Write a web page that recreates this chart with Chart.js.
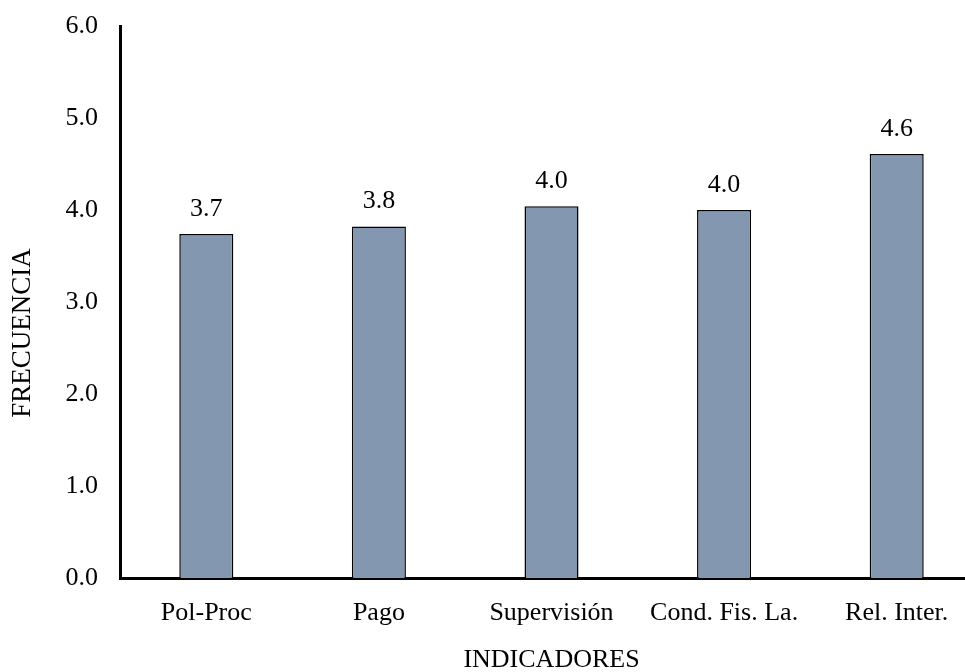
<!DOCTYPE html>
<html>
<head>
<meta charset="utf-8">
<script src="https://cdn.jsdelivr.net/npm/chart.js@4/dist/chart.umd.min.js"></script>
<style>
  html, body { margin: 0; padding: 0; background: #fff; overflow: hidden; }
  #wrap { position: relative; width: 983px; height: 672px; }
</style>
</head>
<body>
<div id="wrap"><canvas id="c" width="983" height="672"></canvas></div>
<script>
// Indicator averages
const categories = ['Pol-Proc', 'Pago', 'Supervisión', 'Cond. Fis. La.', 'Rel. Inter.'];
const values = [3.74, 3.82, 4.04, 4.00, 4.61];
const yTicks = [0, 1, 2, 3, 4, 5, 6];
const yTitle = 'FRECUENCIA';
const xTitle = 'INDICADORES';

const FONT = "'Liberation Serif', 'Times New Roman', serif";
const FSIZE = 26;

// Draws the value above each bar
const valueLabels = {
  id: 'valueLabels',
  afterDatasetsDraw(chart) {
    const ctx = chart.ctx;
    const meta = chart.getDatasetMeta(0);
    ctx.save();
    ctx.font = FSIZE + 'px ' + FONT;
    ctx.fillStyle = '#000';
    ctx.textAlign = 'center';
    ctx.textBaseline = 'bottom';
    meta.data.forEach((bar, i) => {
      ctx.fillText(values[i].toFixed(1), bar.x, bar.y - 12);
    });
    ctx.restore();
  }
};

// Vertical axis title, drawn rotated along the left edge
const sideTitle = {
  id: 'sideTitle',
  afterDraw(chart) {
    const ctx = chart.ctx;
    ctx.save();
    ctx.translate(23, 333);
    ctx.rotate(-Math.PI / 2);
    ctx.font = '27px ' + FONT;
    ctx.fillStyle = '#000';
    ctx.textAlign = 'center';
    ctx.textBaseline = 'middle';
    ctx.fillText(yTitle, 0, 0);
    ctx.restore();
  }
};

new Chart(document.getElementById('c'), {
  type: 'bar',
  data: {
    labels: categories,
    datasets: [{
      data: values,
      backgroundColor: '#8497B0',
      borderColor: '#000',
      borderWidth: 1.5,
      categoryPercentage: 1,
      barPercentage: 0.313
    }]
  },
  options: {
    responsive: false,
    animation: false,
    devicePixelRatio: 1,
    layout: { padding: { top: 26, right: 0, left: 0, bottom: 0 } },
    plugins: { legend: { display: false }, tooltip: { enabled: false } },
    scales: {
      x: {
        grid: { display: false, drawTicks: false },
        border: { display: true, color: '#000', width: 3 },
        ticks: { color: '#000', font: { family: FONT, size: FSIZE }, padding: 20, maxRotation: 0 },
        title: { display: true, text: xTitle, color: '#000', font: { family: FONT, size: FSIZE, lineHeight: 1 }, padding: { top: 0, bottom: -1 } },
        afterFit(scale) { scale.height = 94; scale.paddingLeft = 0; scale.paddingRight = 0; }
      },
      y: {
        min: yTicks[0],
        max: yTicks[yTicks.length - 1],
        afterBuildTicks(scale) { scale.ticks = yTicks.map(v => ({ value: v })); },
        grid: { display: false, drawTicks: false },
        border: { display: true, color: '#000', width: 3 },
        ticks: { color: '#000', font: { family: FONT, size: FSIZE }, padding: 22, callback: v => Number(v).toFixed(1) },
        afterFit(scale) { scale.width = 120; scale.paddingTop = 0; scale.paddingBottom = 0; }
      }
    }
  },
  plugins: [valueLabels, sideTitle]
});
</script>
</body>
</html>
